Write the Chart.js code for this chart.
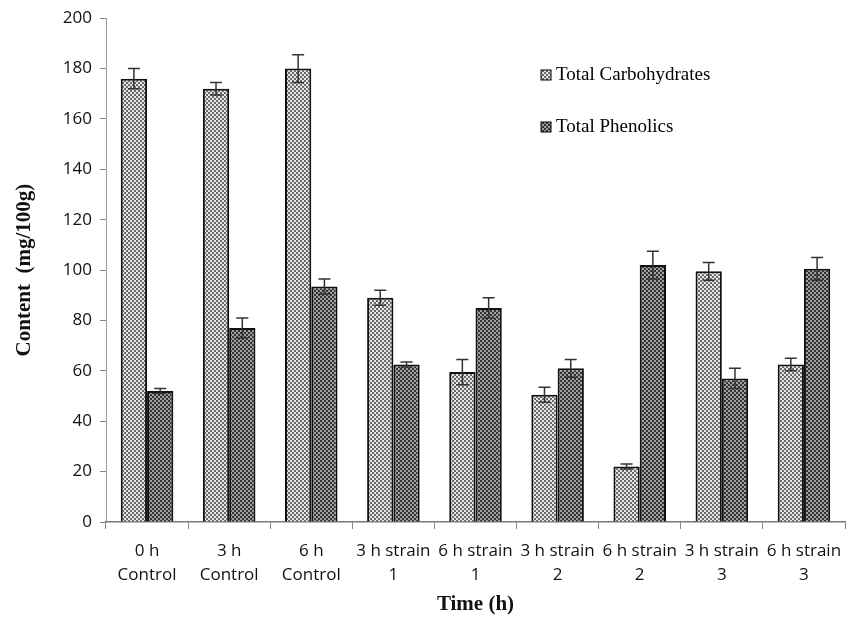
<!DOCTYPE html>
<html>
<head>
<meta charset="utf-8">
<script src="https://cdn.jsdelivr.net/npm/chart.js@4.4.0/dist/chart.umd.min.js"></script>
<style>
    html, body { margin: 0; padding: 0; background: #fff; }
    #wrap { width: 856px; height: 619px; position: relative; }
</style>
</head>
<body>
<div id="wrap"><canvas id="myChart"></canvas></div>
<script>
const categories = [
    ['0 h', 'Control'], ['3 h', 'Control'], ['6 h', 'Control'],
    ['3 h strain', '1'], ['6 h strain', '1'],
    ['3 h strain', '2'], ['6 h strain', '2'],
    ['3 h strain', '3'], ['6 h strain', '3']
];
const carbohydrates = [176, 172, 180, 89, 59.5, 50.5, 22, 99.5, 62.5];
const carbohydratesErr = [4, 2.5, 5.5, 3, 5, 3, 1, 3.5, 2.5];
const phenolics = [52, 77, 93.5, 62.5, 85, 61, 102, 57, 100.5];
const phenolicsErr = [1, 4, 3, 1, 4, 3.5, 5.5, 4, 4.5];
const yTicks = [0, 20, 40, 60, 80, 100, 120, 140, 160, 180, 200];

// checker pattern for the bars
function checker(light, dark) {
    const c = document.createElement('canvas');
    c.width = 4;
    c.height = 4;
    const g = c.getContext('2d');
    g.fillStyle = light;
    g.fillRect(0, 0, 4, 4);
    g.fillStyle = dark;
    g.fillRect(0, 0, 2, 2);
    g.fillRect(2, 2, 2, 2);
    return g.createPattern(c, 'repeat');
}

const ctx = document.getElementById('myChart').getContext('2d');
const carbFill = checker('#e6e6e6', '#6a6a6a');
const phenFill = checker('#a0a0a0', '#333333');

const errorBars = {
    id: 'errorBars',
    afterDatasetsDraw(chart) {
        const g = chart.ctx;
        const y = chart.scales.y;
        const errs = [carbohydratesErr, phenolicsErr];
        g.save();
        g.strokeStyle = '#333';
        g.lineWidth = 1.5;
        chart.data.datasets.forEach((ds, d) => {
            chart.getDatasetMeta(d).data.forEach((bar, i) => {
                const top = y.getPixelForValue(ds.data[i] + errs[d][i]);
                const bot = y.getPixelForValue(ds.data[i] - errs[d][i]);
                g.beginPath();
                g.moveTo(bar.x, bot);
                g.lineTo(bar.x, top);
                g.moveTo(bar.x - 6, top);
                g.lineTo(bar.x + 6, top);
                g.moveTo(bar.x - 6, bot);
                g.lineTo(bar.x + 6, bot);
                g.stroke();
            });
        });
        g.restore();
    }
};

const sideLegend = {
    id: 'sideLegend',
    afterDraw(chart) {
        const g = chart.ctx;
        g.save();
        g.font = '19px "Liberation Serif"';
        g.textBaseline = 'middle';
        chart.data.datasets.forEach((ds, d) => {
            const ly = 75 + d * 52;
            g.fillStyle = ds.backgroundColor;
            g.fillRect(541, ly - 5, 10, 10);
            g.strokeStyle = '#000';
            g.lineWidth = 1;
            g.strokeRect(541, ly - 5, 10, 10);
            g.fillStyle = '#000';
            g.fillText(ds.label, 556, ly);
        });
        g.restore();
    }
};

const chart = new Chart(ctx, {
    type: 'bar',
    data: {
        labels: categories,
        datasets: [{
            label: 'Total Carbohydrates',
            data: carbohydrates,
            backgroundColor: carbFill,
            borderColor: '#111',
            borderWidth: 2,
            barPercentage: 1,
            categoryPercentage: 0.64
        }, {
            label: 'Total Phenolics',
            data: phenolics,
            backgroundColor: phenFill,
            borderColor: '#111',
            borderWidth: 2,
            barPercentage: 1,
            categoryPercentage: 0.64
        }]
    },
    options: {
        responsive: true,
        maintainAspectRatio: false,
        animation: false,
        layout: { padding: { top: 12, right: 11, left: 0, bottom: 2 } },
        plugins: {
            legend: { display: false },
            tooltip: { enabled: false }
        },
        scales: {
            x: {
                grid: {
                    display: true,
                    drawOnChartArea: false,
                    offset: true,
                    tickLength: 7,
                    color: '#888'
                },
                border: { color: '#777', width: 1.5 },
                ticks: {
                    color: '#111',
                    font: { family: '"Open Sans"', size: 17, lineHeight: 1.4 },
                    maxRotation: 0,
                    autoSkip: false,
                    padding: 10
                },
                title: {
                    display: true,
                    text: 'Time (h)',
                    color: '#111',
                    font: { family: '"Liberation Serif"', size: 21, weight: 'bold' },
                    padding: { top: 4, bottom: 0 }
                },
                afterFit(scale) { scale.height = 95; }
            },
            y: {
                min: 0,
                max: 200,
                afterBuildTicks(scale) {
                    scale.ticks = yTicks.map(v => ({ value: v }));
                },
                grid: {
                    display: true,
                    drawOnChartArea: false,
                    tickLength: 6,
                    color: '#888'
                },
                border: { color: '#999', width: 1 },
                ticks: {
                    color: '#111',
                    font: { family: '"Open Sans"', size: 17 },
                    padding: 8
                },
                title: {
                    display: true,
                    text: 'Content  (mg/100g)',
                    color: '#111',
                    font: { family: '"Liberation Serif"', size: 21, weight: 'bold' },
                    padding: { top: 12, bottom: 4 }
                },
                afterFit(scale) { scale.width = 106; }
            }
        }
    },
    plugins: [errorBars, sideLegend]
});
</script>
</body>
</html>
